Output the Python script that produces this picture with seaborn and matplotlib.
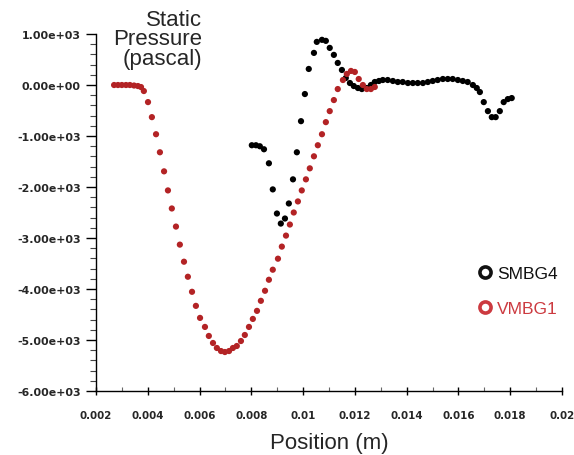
'''
Static pressure along the channel - SMBG4 vs VMBG1
'''
import matplotlib
matplotlib.use('Agg')
import matplotlib.pyplot as plt
from matplotlib.ticker import MultipleLocator, FuncFormatter
from matplotlib.lines import Line2D
import pandas as pd
import seaborn as sns

sns.set_style('white')
plt.rcParams['font.family'] = ['Liberation Sans', 'DejaVu Sans']

# SMBG4 (black)
smbg4_x = [0.00802, 0.00818, 0.00833, 0.00849, 0.00868, 0.00883, 0.00899,
           0.00914, 0.00930, 0.00945, 0.00961, 0.00976, 0.00992, 0.01007,
           0.01022, 0.01042, 0.01053, 0.01073, 0.01088, 0.01103, 0.01119,
           0.01134, 0.01150, 0.01165, 0.01181, 0.01196, 0.01212, 0.01227,
           0.01246, 0.01262, 0.01277, 0.01293, 0.01308, 0.01327, 0.01347,
           0.01366, 0.01385, 0.01405, 0.01424, 0.01443, 0.01463, 0.01482,
           0.01501, 0.01520, 0.01540, 0.01559, 0.01578, 0.01598, 0.01617,
           0.01636, 0.01656, 0.01671, 0.01683, 0.01698, 0.01714, 0.01729,
           0.01744, 0.01760, 0.01775, 0.01791, 0.01806]
smbg4_p = [-1181, -1181, -1201, -1260, -1535, -2047, -2520,
           -2717, -2618, -2323, -1850, -1319, -709, -177,
           315, 630, 846, 886, 866, 728, 591,
           433, 295, 138, 39, -20, -59, -79,
           -59, 0, 59, 79, 98, 98, 79,
           59, 59, 39, 39, 39, 39, 59,
           79, 98, 118, 118, 118, 98, 79,
           59, 0, -59, -138, -335, -512, -630,
           -630, -512, -335, -276, -256]

# VMBG1 (red)
vmbg1_x = [0.00270, 0.00285, 0.00300, 0.00316, 0.00331, 0.00347, 0.00362,
           0.00374, 0.00385, 0.00401, 0.00416, 0.00432, 0.00447, 0.00463,
           0.00478, 0.00493, 0.00509, 0.00524, 0.00540, 0.00555, 0.00571,
           0.00586, 0.00602, 0.00621, 0.00636, 0.00652, 0.00667, 0.00683,
           0.00698, 0.00714, 0.00729, 0.00744, 0.00760, 0.00775, 0.00791,
           0.00806, 0.00822, 0.00837, 0.00853, 0.00868, 0.00883, 0.00903,
           0.00918, 0.00934, 0.00949, 0.00964, 0.00980, 0.00995, 0.01011,
           0.01026, 0.01042, 0.01057, 0.01073, 0.01088, 0.01103, 0.01119,
           0.01134, 0.01154, 0.01169, 0.01185, 0.01200, 0.01215, 0.01231,
           0.01246, 0.01262, 0.01277]
vmbg1_p = [0, 0, 0, 0, 0, -10, -20,
           -40, -118, -335, -630, -965, -1319, -1693,
           -2067, -2421, -2776, -3130, -3465, -3760, -4055,
           -4331, -4567, -4744, -4921, -5059, -5157, -5217,
           -5236, -5217, -5157, -5118, -5020, -4902, -4744,
           -4587, -4429, -4232, -4035, -3819, -3622, -3406,
           -3169, -2953, -2736, -2500, -2283, -2067, -1850,
           -1634, -1398, -1181, -965, -728, -512, -295,
           -79, 98, 217, 276, 256, 118, 0,
           -79, -79, -39]

series_names = ['SMBG4', 'VMBG1']
series_colors = ['#000000', '#b32325']
legend_text_colors = ['#111111', '#cc3a40']


def sci(v, pos):
    s = '%.2e' % v
    return s.replace('-0.00e+00', '0.00e+00')


def main():
    df = pd.concat([
        pd.DataFrame({'x': smbg4_x, 'p': smbg4_p, 's': 'SMBG4'}),
        pd.DataFrame({'x': vmbg1_x, 'p': vmbg1_p, 's': 'VMBG1'}),
    ])

    fig = plt.figure(figsize=(5.74, 4.56), dpi=100)
    ax = fig.add_axes([0.1672, 0.1404, 0.8118, 0.7828])
    sns.scatterplot(data=df, x='x', y='p', hue='s', hue_order=series_names,
                    palette=series_colors, s=20, linewidth=0, legend=False,
                    ax=ax)

    ax.set_xlim(0.002, 0.02)
    ax.set_ylim(-6000, 1000)
    ax.xaxis.set_major_locator(MultipleLocator(0.002))
    ax.xaxis.set_minor_locator(MultipleLocator(0.001))
    ax.yaxis.set_major_locator(MultipleLocator(1000))
    ax.yaxis.set_minor_locator(MultipleLocator(200))
    ax.xaxis.set_major_formatter(FuncFormatter(lambda v, p: '%g' % round(v, 4)))
    ax.yaxis.set_major_formatter(FuncFormatter(sci))

    for side in ['top', 'right']:
        ax.spines[side].set_visible(False)
    for side in ['left', 'bottom']:
        ax.spines[side].set_color('black')
        ax.spines[side].set_linewidth(1.0)

    ax.tick_params(axis='y', which='major', direction='out', length=7,
                   width=1, color='black', left=True, pad=4)
    ax.tick_params(axis='y', which='minor', direction='out', length=4,
                   width=0.8, color='#444444', left=True)
    ax.tick_params(axis='x', which='major', direction='inout', length=6,
                   width=1, color='black', bottom=True, pad=11)
    ax.tick_params(axis='x', which='minor', direction='in', length=3,
                   width=0.8, color='#666666', bottom=True)
    for lab in ax.get_yticklabels():
        lab.set_family('DejaVu Sans')
        lab.set_fontweight('bold')
        lab.set_fontsize(7.9)
    for lab in ax.get_xticklabels():
        lab.set_family('DejaVu Sans')
        lab.set_fontweight('bold')
        lab.set_fontsize(7.4)

    ax.set_xlabel('Position (m)', fontsize=16, labelpad=8)
    ax.set_ylabel('')
    fig.text(0.352, 0.979, 'Static\nPressure\n(pascal)', ha='right', va='top',
             fontsize=16, linespacing=0.93)

    handles = [Line2D([], [], marker='o', linestyle='none', markersize=8,
                      markerfacecolor='white', markeredgecolor=c,
                      markeredgewidth=2.6) for c in legend_text_colors]
    leg = ax.legend(handles, series_names, loc='center left',
                    bbox_to_anchor=(0.782, 0.28), frameon=False, fontsize=12.5,
                    handletextpad=0.2, labelspacing=1.15, handlelength=1.0)
    for t, c in zip(leg.get_texts(), legend_text_colors):
        t.set_color(c)

    fig.savefig('out.png', dpi=100)


if __name__ == '__main__':
    main()
